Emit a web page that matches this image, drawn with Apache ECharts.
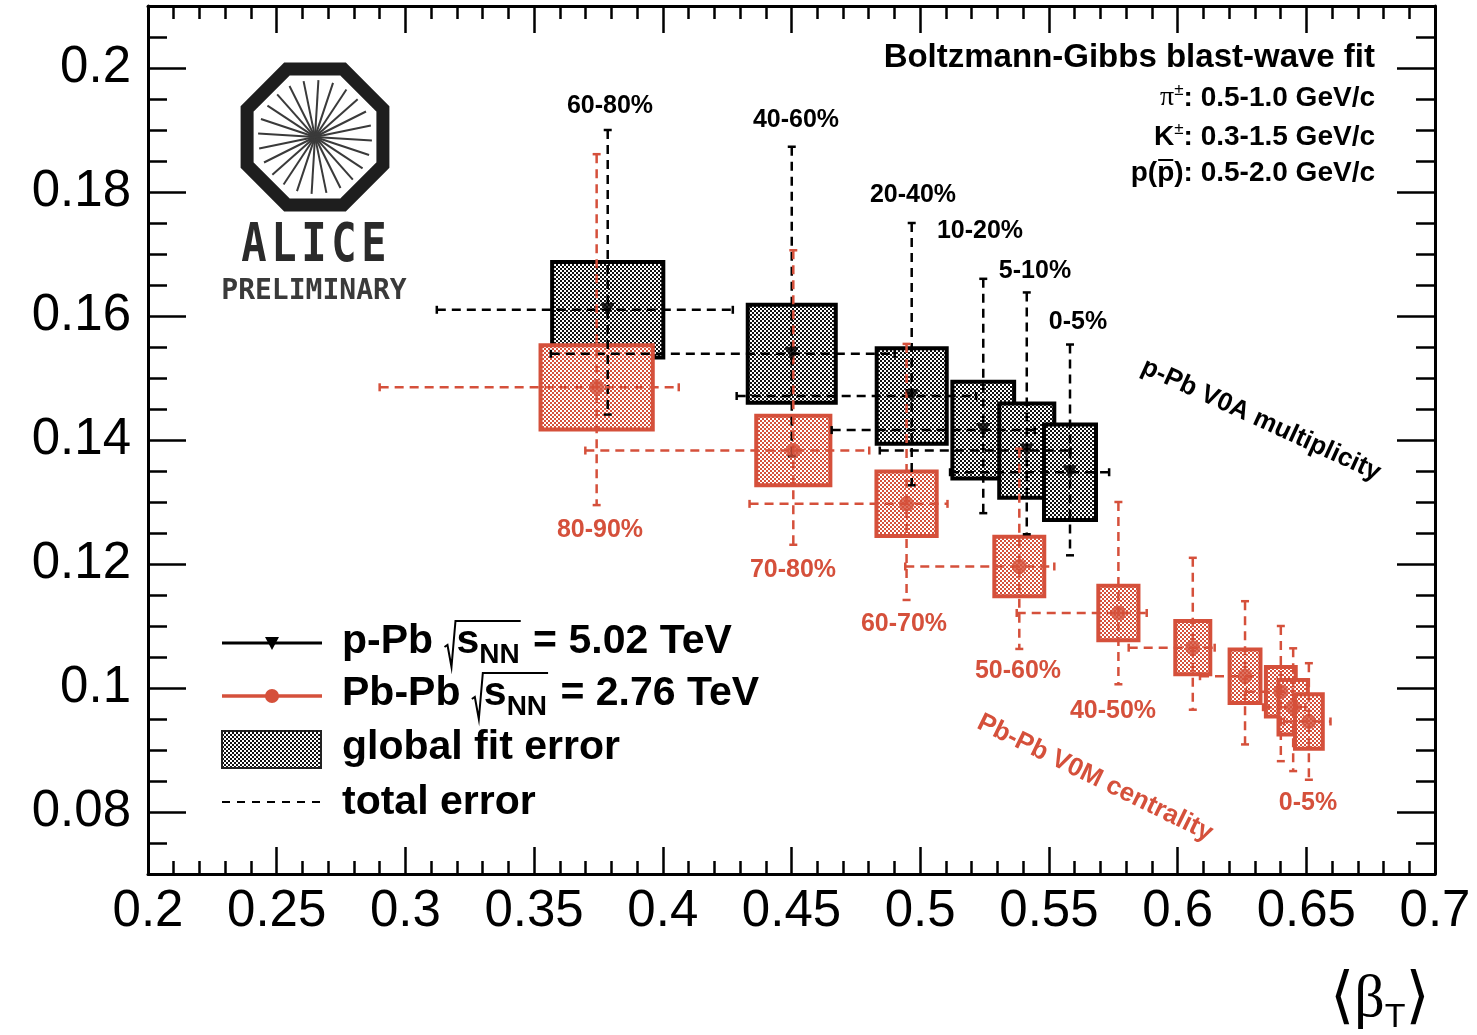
<!DOCTYPE html>
<html>
<head>
<meta charset="utf-8">
<script src="https://cdn.jsdelivr.net/npm/echarts@6/dist/echarts.min.js"></script>
<style>
  html, body { margin: 0; padding: 0; background: #ffffff; }
  #chart { width: 1477px; height: 1035px; }
</style>
</head>
<body>
<div id="chart"></div>
<script>
// ---- p-Pb, sqrt(sNN) = 5.02 TeV, V0A multiplicity classes ----
const pPbClasses   = ['60-80%', '40-60%', '20-40%', '10-20%', '5-10%', '0-5%'];
const pPbBeta      = [0.3786, 0.4501, 0.4967, 0.5245, 0.5414, 0.5582];
const pPbTkin      = [0.1610, 0.1539, 0.1471, 0.1416, 0.1383, 0.1348];
// global fit error (symmetric half-widths)
const pPbFitBeta   = [0.0216, 0.0171, 0.0136, 0.0120, 0.0107, 0.0101];
const pPbFitTkin   = [0.0077, 0.0079, 0.0077, 0.0078, 0.0076, 0.0077];
// total error (asymmetric)
const pPbTotBetaLo = [0.0664, 0.0936, 0.0680, 0.0589, 0.0571, 0.0466];
const pPbTotBetaHi = [0.0486, 0.0400, 0.0250, 0.0200, 0.0170, 0.0152];
const pPbTotTkinLo = [0.0169, 0.0165, 0.0144, 0.0134, 0.0135, 0.0134];
const pPbTotTkinHi = [0.0290, 0.0334, 0.0279, 0.0244, 0.0255, 0.0206];

// ---- Pb-Pb, sqrt(sNN) = 2.76 TeV, V0M centrality classes ----
const PbPbClasses   = ['80-90%', '70-80%', '60-70%', '50-60%', '40-50%', '30-40%', '20-30%', '10-20%', '5-10%', '0-5%'];
const PbPbBeta      = [0.3743, 0.4507, 0.4947, 0.5385, 0.5770, 0.6059, 0.6262, 0.6401, 0.6449, 0.6510];
const PbPbTkin      = [0.1485, 0.1383, 0.1297, 0.1196, 0.1121, 0.1065, 0.1019, 0.0994, 0.0969, 0.0946];
const PbPbFitBeta   = [0.0218, 0.0144, 0.0117, 0.0097, 0.0078, 0.0068, 0.0060, 0.0058, 0.0057, 0.0054];
const PbPbFitTkin   = [0.0068, 0.0056, 0.0052, 0.0048, 0.0044, 0.0043, 0.0043, 0.0040, 0.0044, 0.0044];
const PbPbTotBetaLo = [0.0843, 0.0808, 0.0610, 0.0443, 0.0395, 0.0249, 0.0175, 0.0136, 0.0117, 0.0097];
const PbPbTotBetaHi = [0.0319, 0.0295, 0.0159, 0.0136, 0.0110, 0.0085, 0.0058, 0.0047, 0.0047, 0.0084];
const PbPbTotTkinLo = [0.0190, 0.0152, 0.0155, 0.0133, 0.0115, 0.0100, 0.0110, 0.0112, 0.0103, 0.0094];
const PbPbTotTkinHi = [0.0376, 0.0323, 0.0258, 0.0190, 0.0179, 0.0145, 0.0121, 0.0106, 0.0095, 0.0094];

// ---- axis ticks ----
const xMin = 0.2, xMax = 0.7, xStep = 0.05;
const yMin = 0.07, yMax = 0.21, yMinorStep = 0.005;
const yMajorTicks = [0.08, 0.10, 0.12, 0.14, 0.16, 0.18, 0.20];

const BLACK = '#000000';
const RED = '#d5503b';
const SANS = '"Liberation Sans", Arial, Helvetica, sans-serif';

// ---- helpers ----
const measureCtx = document.createElement('canvas').getContext('2d');
function textWidth(str, font) { measureCtx.font = font; return measureCtx.measureText(str).width; }
function bold(size) { return 'bold ' + size + 'px ' + SANS; }

function checker(color) {
  const c = document.createElement('canvas');
  c.width = 4; c.height = 4;
  const g = c.getContext('2d');
  g.fillStyle = '#ffffff'; g.fillRect(0, 0, 4, 4);
  g.fillStyle = color; g.fillRect(0, 0, 2, 2); g.fillRect(2, 2, 2, 2);
  return { image: c, repeat: 'repeat' };
}
const blackHatch = checker('#111111');
const redHatch = checker(RED);

function zip(...cols) { return cols[0].map((_, i) => cols.map(c => c[i])); }

function boxRenderer(fill, stroke) {
  return function (params, api) {
    const x = api.value(0), y = api.value(1), dx = api.value(2), dy = api.value(3);
    const p0 = api.coord([x - dx, y + dy]);
    const p1 = api.coord([x + dx, y - dy]);
    return {
      type: 'rect',
      shape: { x: p0[0], y: p0[1], width: p1[0] - p0[0], height: p1[1] - p0[1] },
      style: { fill: fill, stroke: stroke, lineWidth: 4 }
    };
  };
}

function errorRenderer(color) {
  return function (params, api) {
    const x = api.value(0), y = api.value(1);
    const c = api.coord([x, y]);
    const L = api.coord([x - api.value(2), y]);
    const R = api.coord([x + api.value(3), y]);
    const B = api.coord([x, y - api.value(4)]);
    const T = api.coord([x, y + api.value(5)]);
    const dash = { stroke: color, lineWidth: 2.5, lineDash: [9, 6] };
    const solid = { stroke: color, lineWidth: 2.5 };
    const cap = 4;
    return {
      type: 'group',
      children: [
        { type: 'line', shape: { x1: L[0], y1: c[1], x2: R[0], y2: c[1] }, style: dash },
        { type: 'line', shape: { x1: c[0], y1: T[1], x2: c[0], y2: B[1] }, style: dash },
        { type: 'line', shape: { x1: L[0], y1: c[1] - cap, x2: L[0], y2: c[1] + cap }, style: solid },
        { type: 'line', shape: { x1: R[0], y1: c[1] - cap, x2: R[0], y2: c[1] + cap }, style: solid },
        { type: 'line', shape: { x1: c[0] - cap, y1: T[1], x2: c[0] + cap, y2: T[1] }, style: solid },
        { type: 'line', shape: { x1: c[0] - cap, y1: B[1], x2: c[0] + cap, y2: B[1] }, style: solid }
      ]
    };
  };
}

function txt(x, y, text, font, fill, align, extra) {
  return Object.assign({
    type: 'text', x: x, y: y, silent: true,
    style: { text: text, font: font, fill: fill || BLACK, align: align || 'left', verticalAlign: 'middle',
             textAlign: align || 'left', textVerticalAlign: 'middle' }
  }, extra || {});
}

// lays out a run of text pieces side by side; returns elements and piece positions
function run(x, y, pieces, anchor) {
  let total = 0;
  pieces.forEach(p => { p.w = p.t ? textWidth(p.t, p.font) : 0; total += (p.gap || 0) + p.w; });
  let cx = anchor === 'right' ? x - total : x;
  const els = [];
  pieces.forEach(p => {
    cx += p.gap || 0;
    p.x0 = cx;
    if (p.t) els.push(txt(cx, y + (p.dy || 0), p.t, p.font, p.fill));
    cx += p.w;
    p.x1 = cx;
  });
  return { els, pieces };
}

function radicalLegend(x, y, pre, post, color) {
  const F = bold(41), FS = bold(28);
  const pcs = [
    { t: pre, font: F },
    { t: '', font: F, gap: 12 },
    { t: 's', font: F },
    { t: 'NN', font: FS, dy: 13 },
    { t: post, font: F, gap: 2 }
  ];
  const r = run(x, y, pcs, 'left');
  const rx = pcs[1].x0 - 10;
  const top = y - 21, bot = y + 25;
  r.els.push({
    type: 'polyline', silent: true,
    shape: { points: [[rx - 2, y + 5], [rx + 1, y + 3], [rx + 5, bot], [rx + 9, top], [pcs[3].x1 + 1, top]] },
    style: { stroke: color || BLACK, lineWidth: 2, fill: null }
  });
  return r.els;
}

// ---- static graphics: legend, annotations, logo ----
const graphics = [];

// legend
graphics.push({ type: 'line', silent: true, shape: { x1: 222, y1: 643, x2: 322, y2: 643 }, style: { stroke: BLACK, lineWidth: 3 } });
graphics.push({ type: 'polygon', silent: true, shape: { points: [[265, 637], [279, 637], [272, 650]] }, style: { fill: BLACK } });
graphics.push({ type: 'line', silent: true, shape: { x1: 222, y1: 696, x2: 322, y2: 696 }, style: { stroke: RED, lineWidth: 3.5 } });
graphics.push({ type: 'circle', silent: true, shape: { cx: 272, cy: 696, r: 7 }, style: { fill: RED } });
graphics.push({ type: 'rect', silent: true, shape: { x: 222, y: 731, width: 99, height: 37 }, style: { fill: blackHatch, stroke: '#222', lineWidth: 2 } });
graphics.push({ type: 'line', silent: true, shape: { x1: 222, y1: 802, x2: 322, y2: 802 }, style: { stroke: BLACK, lineWidth: 2, lineDash: [8, 7] } });
radicalLegend(342, 642, 'p-Pb ', ' = 5.02 TeV').forEach(e => graphics.push(e));
radicalLegend(342, 694, 'Pb-Pb ', ' = 2.76 TeV').forEach(e => graphics.push(e));
graphics.push(txt(342, 748, 'global fit error', bold(41)));
graphics.push(txt(342, 803, 'total error', bold(41)));

// fit description
graphics.push(txt(1375, 58, 'Boltzmann-Gibbs blast-wave fit', bold(33), BLACK, 'right'));
run(1375, 98, [
  { t: 'π', font: '28px "Liberation Serif", serif' },
  { t: '±', font: '17px ' + SANS, dy: -8 },
  { t: ': 0.5-1.0 GeV/c', font: bold(28) }
], 'right').els.forEach(e => graphics.push(e));
run(1375, 137, [
  { t: 'K', font: bold(28) },
  { t: '±', font: '17px ' + SANS, dy: -8 },
  { t: ': 0.3-1.5 GeV/c', font: bold(28) }
], 'right').els.forEach(e => graphics.push(e));
(function () {
  const r = run(1375, 173, [
    { t: 'p(', font: bold(28) },
    { t: 'p', font: bold(28) },
    { t: '): 0.5-2.0 GeV/c', font: bold(28) }
  ], 'right');
  r.els.forEach(e => graphics.push(e));
  const p = r.pieces[1];
  graphics.push({ type: 'line', silent: true, shape: { x1: p.x0 + 1, y1: 160, x2: p.x1 - 1, y2: 160 }, style: { stroke: BLACK, lineWidth: 2 } });
})();

// class labels
const pPbLabelPos = [[610, 106], [796, 120], [913, 195], [980, 231], [1035, 271], [1078, 322]];
pPbClasses.forEach((c, i) => graphics.push(txt(pPbLabelPos[i][0], pPbLabelPos[i][1], c, bold(25), BLACK, 'center')));
const PbPbLabelPos = { '80-90%': [600, 530], '70-80%': [793, 570], '60-70%': [904, 624], '50-60%': [1018, 671], '40-50%': [1113, 711], '0-5%': [1308, 803] };
Object.keys(PbPbLabelPos).forEach(c => graphics.push(txt(PbPbLabelPos[c][0], PbPbLabelPos[c][1], c, bold(25), RED, 'center')));

graphics.push(txt(1261, 420, 'p-Pb V0A multiplicity', bold(26), BLACK, 'center', { rotation: -0.43 }));
graphics.push(txt(1095, 778, 'Pb-Pb V0M centrality', bold(26), RED, 'center', { rotation: -0.455 }));

// axis title <beta_T>
run(1330, 1000, [
  { t: '⟨', font: '62px "DejaVu Sans", sans-serif' },
  { t: 'β', font: '60px "Liberation Serif", serif' },
  { t: 'T', font: '34px ' + SANS, dy: 18 },
  { t: '⟩', font: '62px "DejaVu Sans", sans-serif' }
], 'left').els.forEach(e => graphics.push(e));

// ALICE logo
(function () {
  const cx = 315, cy = 137, R = 73.5;
  const pts = [];
  for (let k = 0; k < 8; k++) {
    const a = Math.PI / 8 + k * Math.PI / 4;
    pts.push([cx + R * Math.cos(a), cy + R * Math.sin(a)]);
  }
  graphics.push({ type: 'polygon', silent: true, shape: { points: pts }, style: { fill: null, stroke: '#1e1e1e', lineWidth: 13 } });
  for (let k = 0; k < 12; k++) {
    const a = k * Math.PI / 12 + 0.06;
    const r = 57;
    graphics.push({
      type: 'line', silent: true,
      shape: { x1: cx - r * Math.cos(a), y1: cy - r * Math.sin(a), x2: cx + r * Math.cos(a), y2: cy + r * Math.sin(a) },
      style: { stroke: '#3a3a3a', lineWidth: 2 }
    });
  }
  'ALICE'.split('').forEach((ch, i) => {
    graphics.push(txt(254 + i * 30, 247, ch, 'bold 54px "DejaVu Sans Mono", monospace', '#2a2a2a', 'center', { scaleX: 0.78 }));
  });
  graphics.push(txt(314, 292, 'PRELIMINARY', 'bold 28px "DejaVu Sans Mono", monospace', '#3a3a3a', 'center'));
})();

// ---- chart ----
const chart = echarts.init(document.getElementById('chart'), null, { renderer: 'canvas' });

const tickLine = { color: BLACK, width: 2.5 };
function xAxisDef(pos, labels) {
  return {
    type: 'value', position: pos, min: xMin, max: xMax, interval: xStep,
    axisLine: { show: true, onZero: false, lineStyle: { color: BLACK, width: 3 } },
    axisTick: { show: true, inside: true, length: 27, lineStyle: tickLine },
    minorTick: { show: true, splitNumber: 5, length: 13, lineStyle: tickLine },
    splitLine: { show: false }, minorSplitLine: { show: false },
    axisLabel: { show: labels, fontSize: 51, fontFamily: SANS, color: BLACK, margin: 12 }
  };
}
function yMinorAxis(pos) {
  return {
    type: 'value', position: pos, min: yMin, max: yMax, interval: yMinorStep,
    axisLine: { show: true, onZero: false, lineStyle: { color: BLACK, width: 3 } },
    axisTick: { show: true, inside: true, length: 19, lineStyle: tickLine },
    splitLine: { show: false },
    axisLabel: { show: false }
  };
}
function yMajorAxis(pos, labels) {
  return {
    type: 'value', position: pos, min: yMin, max: yMax, interval: 0.01,
    axisLine: { show: false },
    axisTick: { show: true, inside: true, length: 38, lineStyle: tickLine, customValues: yMajorTicks },
    splitLine: { show: false },
    axisLabel: { show: labels, customValues: yMajorTicks, fontSize: 51, fontFamily: SANS, color: BLACK, margin: 17,
                 formatter: v => String(+v.toFixed(3)) }
  };
}

chart.setOption({
  animation: false,
  backgroundColor: '#ffffff',
  textStyle: { fontFamily: SANS },
  grid: { left: 148, right: 42, top: 6, bottom: 161, containLabel: false },
  xAxis: [xAxisDef('bottom', true), xAxisDef('top', false)],
  yAxis: [yMinorAxis('left'), yMajorAxis('left', true), yMinorAxis('right'), yMajorAxis('right', false)],
  series: [
    {
      name: 'p-Pb global fit error', type: 'custom', xAxisIndex: 0, yAxisIndex: 0,
      renderItem: boxRenderer(blackHatch, BLACK),
      data: zip(pPbBeta, pPbTkin, pPbFitBeta, pPbFitTkin), encode: { x: 0, y: 1 }
    },
    {
      name: 'Pb-Pb global fit error', type: 'custom', xAxisIndex: 0, yAxisIndex: 0,
      renderItem: boxRenderer(redHatch, RED),
      data: zip(PbPbBeta, PbPbTkin, PbPbFitBeta, PbPbFitTkin), encode: { x: 0, y: 1 }
    },
    {
      name: 'p-Pb total error', type: 'custom', xAxisIndex: 0, yAxisIndex: 0,
      renderItem: errorRenderer(BLACK),
      data: zip(pPbBeta, pPbTkin, pPbTotBetaLo, pPbTotBetaHi, pPbTotTkinLo, pPbTotTkinHi), encode: { x: 0, y: 1 }
    },
    {
      name: 'Pb-Pb total error', type: 'custom', xAxisIndex: 0, yAxisIndex: 0,
      renderItem: errorRenderer(RED),
      data: zip(PbPbBeta, PbPbTkin, PbPbTotBetaLo, PbPbTotBetaHi, PbPbTotTkinLo, PbPbTotTkinHi), encode: { x: 0, y: 1 }
    },
    {
      name: 'p-Pb', type: 'scatter', xAxisIndex: 0, yAxisIndex: 0,
      symbol: 'triangle', symbolRotate: 180, symbolSize: 14,
      itemStyle: { color: BLACK }, data: zip(pPbBeta, pPbTkin)
    },
    {
      name: 'Pb-Pb', type: 'scatter', xAxisIndex: 0, yAxisIndex: 0,
      symbol: 'circle', symbolSize: 15,
      itemStyle: { color: RED }, data: zip(PbPbBeta, PbPbTkin)
    }
  ],
  graphic: { elements: graphics }
});
</script>
</body>
</html>
